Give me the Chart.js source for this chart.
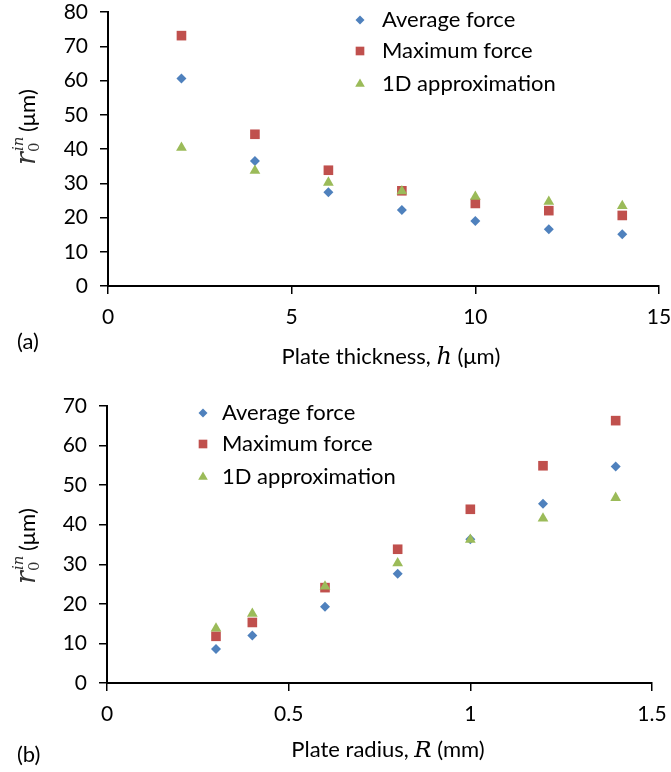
<!DOCTYPE html>
<html><head><meta charset="utf-8">
<script src="https://cdn.jsdelivr.net/npm/chart.js@4"></script>
<style>
body{margin:0;background:#fff;}
#wrap{position:relative;width:671px;height:772px;}
.box{position:absolute;left:0;width:671px;height:386px;}
</style>
</head><body>
<div id="wrap">
  <div class="box" style="top:0"><canvas id="c1" width="671" height="386"></canvas></div>
  <div class="box" style="top:386px"><canvas id="c2" width="671" height="386"></canvas></div>
</div>
<script>
// ---- data ----
const seriesNames = ['Average force', 'Maximum force', '1D approximation'];
const thickness = [2, 4, 6, 8, 10, 12, 14];
const avgA  = [60.6, 36.5, 27.4, 22.2, 19.0, 16.6, 15.1];
const maxA  = [73.1, 44.3, 33.8, 27.8, 24.1, 22.0, 20.6];
const oneDA = [40.4, 33.7, 30.2, 27.7, 26.1, 24.6, 23.4];
const radius = [0.3, 0.4, 0.6, 0.8, 1.0, 1.2, 1.4];
const avgB  = [8.6, 12.0, 19.3, 27.6, 36.3, 45.3, 54.7];
const maxB  = [11.8, 15.3, 24.1, 33.8, 43.9, 54.9, 66.3];
const oneDB = [13.8, 17.5, 24.4, 30.3, 36.2, 41.6, 46.8];
const xRangeA = [0, 15], xStepA = 5, yRangeA = [0, 80], yStepA = 10;
const xRangeB = [0, 1.5], xStepB = 0.5, yRangeB = [0, 70], yStepB = 10;

const COLORS = ['#4F81BD', '#C0504D', '#9BBB59'];
const STYLES = ['rectRot', 'rect', 'triangle'];
const RADII = [5, 6.8, 6.2];
const ORDER = [3, 2, 1];
const FONT = 'Lato';
const TEXT = '#000';
const LBL = 22, TICK = 21;

function pts(xs, ys) { return xs.map((x, i) => ({x: x, y: ys[i]})); }

function drawRich(ctx, parts, cx, cy, rotate) {
  ctx.save();
  ctx.translate(cx, cy);
  if (rotate) ctx.rotate(-Math.PI / 2);
  ctx.textBaseline = 'alphabetic';
  ctx.textAlign = 'left';
  let total = 0;
  for (let i = 0; i < parts.length; i++) {
    const p = parts[i];
    ctx.font = p.font; p.w = ctx.measureText(p.text).width;
    if (p.pair) {
      const q = parts[i + 1]; ctx.font = q.font; q.w = ctx.measureText(q.text).width;
      total += Math.max(p.w, q.w); i++;
    } else total += p.w;
  }
  let x = -total / 2;
  const base = 7;
  for (let i = 0; i < parts.length; i++) {
    const p = parts[i];
    ctx.font = p.font;
    ctx.fillStyle = p.color || TEXT;
    ctx.fillText(p.text, x + (p.dx || 0), base + (p.dy || 0));
    if (p.pair) {
      const q = parts[i + 1];
      ctx.font = q.font; ctx.fillStyle = q.color || TEXT;
      ctx.fillText(q.text, x + (q.dx || 0), base + (q.dy || 0));
      x += Math.max(p.w, q.w);
      i++;
    } else x += p.w;
  }
  ctx.restore();
}

function yTitleParts() {
  return [
    {text: 'r', font: 'italic 27px "DejaVu Serif"', color: '#333'},
    {text: '0', font: '15px "DejaVu Serif"', dy: 4, dx: 0, pair: true, color: '#333'},
    {text: 'in', font: 'italic 15px "DejaVu Serif"', dy: -12, dx: 1, color: '#333'},
    {text: ' (\u03bcm)', font: LBL + 'px ' + FONT}
  ];
}

function drawMarker(ctx, style, r, x, y, color) {
  ctx.save();
  ctx.fillStyle = color;
  ctx.beginPath();
  if (style === 'rect') {
    const s = Math.SQRT1_2 * r;
    ctx.rect(x - s, y - s, 2 * s, 2 * s);
  } else if (style === 'rectRot') {
    ctx.moveTo(x, y - r); ctx.lineTo(x + r, y); ctx.lineTo(x, y + r); ctx.lineTo(x - r, y); ctx.closePath();
  } else {
    for (let k = 0; k < 3; k++) {
      const a = k * 2 * Math.PI / 3;
      const px = x + Math.sin(a) * r, py = y - Math.cos(a) * r;
      if (k === 0) ctx.moveTo(px, py); else ctx.lineTo(px, py);
    }
    ctx.closePath();
  }
  ctx.fill();
  ctx.restore();
}

function makeChart(id, cfg) {
  const area = cfg.area;
  const W = 671, H = 386;
  const annot = {
    id: 'annot',
    afterDraw(chart) {
      const ctx = chart.ctx;
      cfg.legend.rows.forEach((yy, i) => {
        drawMarker(ctx, STYLES[i], RADII[i] * 0.9, cfg.legend.mx, yy, COLORS[i]);
        ctx.save();
        ctx.font = LBL + 'px ' + FONT; ctx.fillStyle = TEXT;
        ctx.textBaseline = 'middle'; ctx.textAlign = 'left';
        ctx.fillText(seriesNames[i], cfg.legend.tx, yy);
        ctx.restore();
      });
      drawRich(ctx, cfg.xTitle, cfg.xTitlePos[0], cfg.xTitlePos[1], false);
      drawRich(ctx, yTitleParts(), cfg.yTitlePos[0], cfg.yTitlePos[1], true);
      ctx.save();
      ctx.font = LBL + 'px ' + FONT; ctx.fillStyle = TEXT;
      ctx.textBaseline = 'middle'; ctx.textAlign = 'left';
      ctx.fillText(cfg.panel, cfg.panelPos[0], cfg.panelPos[1]);
      ctx.restore();
    }
  };
  const ys = [cfg.avg, cfg.max, cfg.oneD];
  return new Chart(document.getElementById(id), {
    type: 'scatter',
    data: {
      datasets: seriesNames.map((n, i) => ({
        label: n,
        data: pts(cfg.xs, ys[i]),
        pointStyle: STYLES[i],
        pointRadius: RADII[i],
        pointHoverRadius: RADII[i],
        backgroundColor: COLORS[i],
        borderColor: COLORS[i],
        pointBorderWidth: 0,
        order: ORDER[i]
      }))
    },
    options: {
      responsive: false,
      animation: false,
      events: [],
      layout: {padding: {left: 0, top: area.top, right: W - area.right, bottom: 0}},
      plugins: {legend: {display: false}, tooltip: {enabled: false}},
      scales: {
        x: {
          type: 'linear', min: cfg.xRange[0], max: cfg.xRange[1],
          ticks: {stepSize: cfg.xStep, color: TEXT, font: {family: FONT, size: TICK}, padding: 11, maxRotation: 0,
                  callback: v => String(v)},
          grid: {drawOnChartArea: false, drawTicks: true, tickLength: 8, color: '#000', lineWidth: 1.5},
          border: {display: true, color: '#000', width: 2},
          afterFit(s) { s.height = H - area.bottom; s.paddingLeft = 0; s.paddingRight = 0; }
        },
        y: {
          type: 'linear', min: cfg.yRange[0], max: cfg.yRange[1],
          ticks: {stepSize: cfg.yStep, color: TEXT, font: {family: FONT, size: TICK}, padding: 12},
          grid: {drawOnChartArea: false, drawTicks: true, tickLength: 8, color: '#000', lineWidth: 1.5},
          border: {display: true, color: '#000', width: 2},
          afterFit(s) { s.width = area.left; s.paddingTop = 0; s.paddingBottom = 0; }
        }
      }
    },
    plugins: [annot]
  });
}

makeChart('c1', {
  xs: thickness, avg: avgA, max: maxA, oneD: oneDA,
  xRange: xRangeA, xStep: xStepA, yRange: yRangeA, yStep: yStepA,
  area: {left: 108, top: 12, right: 659, bottom: 286},
  legend: {mx: 360, tx: 382, rows: [20, 51, 84]},
  xTitle: [
    {text: 'Plate thickness, ', font: LBL + 'px ' + FONT},
    {text: 'h', font: 'italic 24px "DejaVu Serif"'},
    {text: ' (\u03bcm)', font: LBL + 'px ' + FONT}
  ],
  xTitlePos: [391, 357],
  yTitlePos: [28, 127],
  panel: '(a)', panelPos: [17, 342]
});

makeChart('c2', {
  xs: radius, avg: avgB, max: maxB, oneD: oneDB,
  xRange: xRangeB, xStep: xStepB, yRange: yRangeB, yStep: yStepB,
  area: {left: 107, top: 20, right: 652, bottom: 297},
  legend: {mx: 203, tx: 222, rows: [27, 58, 91]},
  xTitle: [
    {text: 'Plate radius, ', font: LBL + 'px ' + FONT},
    {text: 'R', font: 'italic 23px "DejaVu Serif"'},
    {text: ' (mm)', font: LBL + 'px ' + FONT}
  ],
  xTitlePos: [388, 364],
  yTitlePos: [28, 160],
  panel: '(b)', panelPos: [17, 369]
});
</script>
</body></html>
